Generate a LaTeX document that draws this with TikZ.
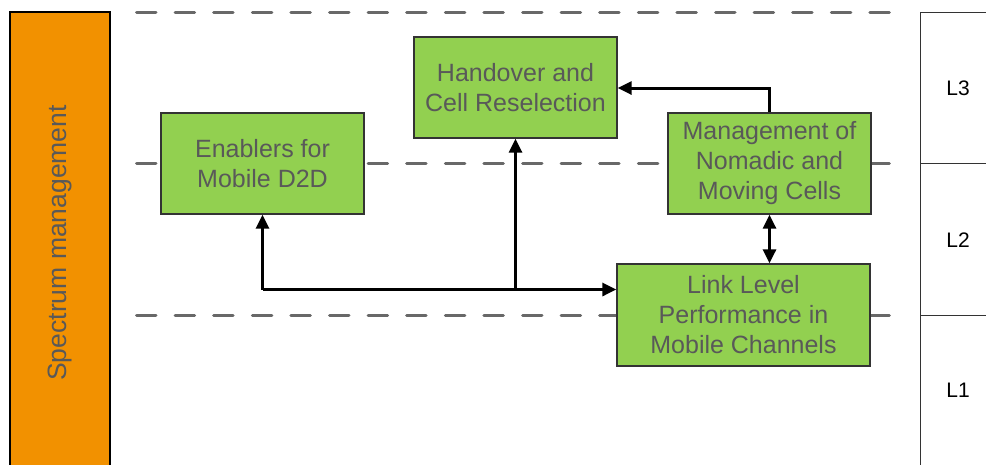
\documentclass[tikz,border=0pt]{standalone}
\usepackage{fontspec}
\setmainfont{Liberation Sans}
\usetikzlibrary{arrows.meta}
\definecolor{orangebar}{HTML}{F29100}
\definecolor{boxgreen}{HTML}{92D050}
\definecolor{txtgray}{HTML}{595959}
\definecolor{dashgray}{HTML}{686868}
\definecolor{bordergray}{HTML}{333333}
\tikzset{
  greenbox/.style={draw=bordergray, line width=1.3pt, fill=boxgreen, inner sep=0pt,
    text=txtgray, align=center, font=\fontsize{25}{30}\selectfont},
  layerline/.style={draw=dashgray, line width=3pt, line cap=round, dash pattern=on 19.5pt off 19.1pt},
  arr/.style={line width=3pt, -{Triangle[length=14pt,width=13pt]}},
  dblarr/.style={line width=3pt, {Triangle[length=14pt,width=13pt]}-{Triangle[length=14pt,width=13pt]}},
  layerlabel/.style={font=\fontsize{21}{25}\selectfont, text=black},
  thinline/.style={draw=bordergray, line width=1pt}
}
\begin{document}
\begin{tikzpicture}[x=1pt,y=-1pt]
\useasboundingbox (0,0) rectangle (986,464);
\clip (0,0) rectangle (986,464);
% orange bar
\draw[fill=orangebar, draw=black, line width=1.2pt] (10,12) rectangle (110,475);
\node[rotate=90, text=txtgray, font=\fontsize{26.5}{30}\selectfont] (spec) at (60,243) {Spectrum management};
% layer dashed lines
\draw[layerline] (136.5,12) -- (896,12);
\draw[layerline] (136.5,163) -- (896,163);
\draw[layerline] (136.5,315) -- (896,315);
% right layer box
\draw[thinline] (920,12) -- (920,470);
\draw[thinline] (920,12) -- (990,12);
\draw[thinline] (920,163) -- (990,163);
\draw[thinline] (920,315) -- (990,315);
\node[layerlabel] (l3) at (958,88) {L3};
\node[layerlabel] (l2) at (958,240) {L2};
\node[layerlabel] (l1) at (958,390) {L1};
% boxes
\node[greenbox, minimum width=203pt, minimum height=101pt] (hand) at (515.5,87.5) {Handover and\\Cell Reselection};
\node[greenbox, minimum width=203pt, minimum height=101pt] (enab) at (262.5,163.5) {Enablers for\\Mobile D2D};
\node[greenbox, minimum width=203pt, minimum height=101pt] (mgmt) at (769.5,163.5) {Management of\\Nomadic and\\Moving Cells};
\node[greenbox, minimum width=253pt, minimum height=102pt] (link) at (743.5,315) {Link Level\\Performance in\\Mobile Channels};
% connectors
\coordinate (j) at (262.5,289.5);
\coordinate (top) at (769.5,88);
\draw[arr] (mgmt.north) -- (top) -- (hand.east |- top);
\draw[dblarr] (mgmt.south) -- (link.north -| mgmt.south);
\draw[arr] (j) -- (enab.south);
\draw[arr] (j) -- (link.west |- j);
\draw[arr] (hand.south |- j) -- (hand.south);
\end{tikzpicture}
\end{document}
